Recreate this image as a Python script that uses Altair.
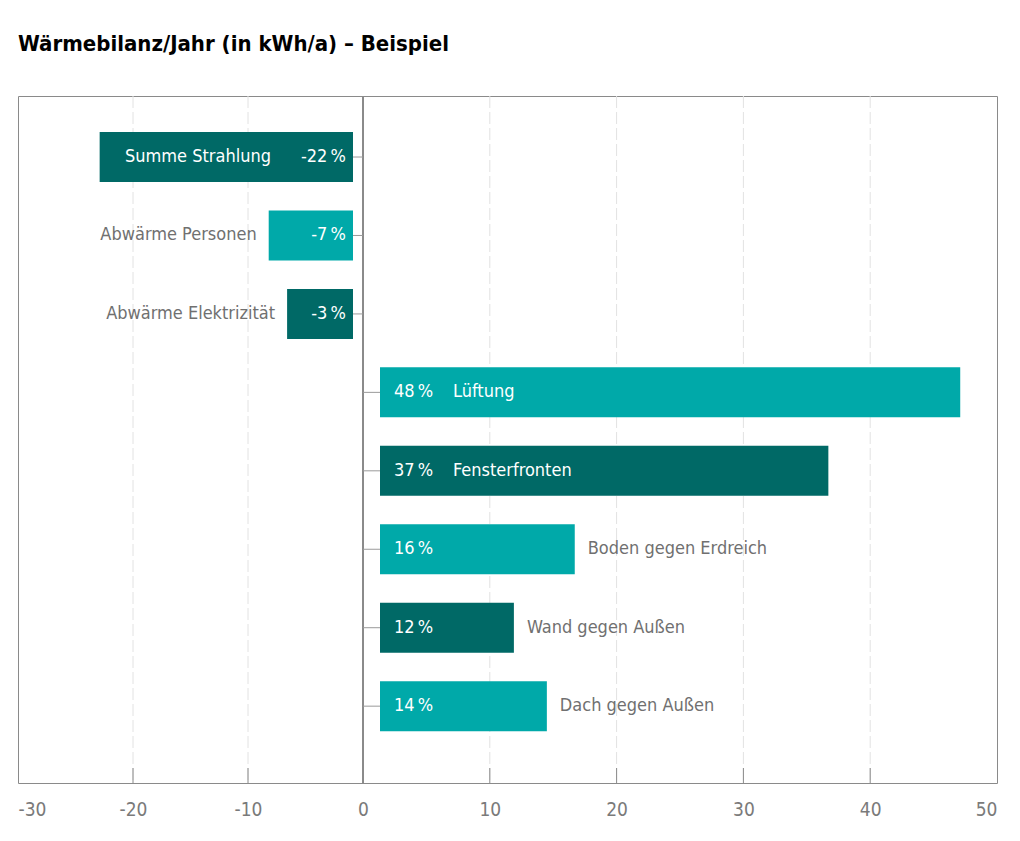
"""Wärmebilanz/Jahr – horizontal diverging bar chart"""

import altair as alt
import pandas

FONT = "Liberation Sans Narrow, DejaVu Sans Condensed, sans-serif"

categories = ["Summe Strahlung", "Abwärme Personen", "Abwärme Elektrizität", "Lüftung",
              "Fensterfronten", "Boden gegen Erdreich", "Wand gegen Außen", "Dach gegen Außen"]
values = [-22.9, -8.2, -6.6, 47.1, 36.7, 16.7, 11.9, 14.5]
percent_labels = ["-22\u2009%", "-7\u2009%", "-3\u2009%", "48\u2009%",
                  "37\u2009%", "16\u2009%", "12\u2009%", "14\u2009%"]
shades = ["dark", "light", "dark", "light", "dark", "light", "dark", "light"]

axis_ticks = [-30, -20, -10, 0, 10, 20, 30, 40, 50]
grid_ticks = [-20, -10, 10, 20, 30, 40]

df = pandas.DataFrame({"category": categories, "value": values,
                       "pct": percent_labels, "shade": shades})
df["base"] = 0
df["inside"] = df["value"].abs() > 20
grid_df = pandas.DataFrame({"tick": grid_ticks})

x_scale = alt.Scale(domain=[-30, 0, 50], range=[0, 345, 979], nice=False, zero=False)
x_axis = alt.Axis(values=axis_ticks, labelFlush=True, ticks=False, domain=False, grid=False,
                  labelFont=FONT, labelFontSize=19, labelColor="#7a7a7a", labelPadding=17,
                  labelExpr="replace(datum.label, '\u2212', '-')", title=None)
y_enc = alt.Y("category:N", sort=categories, axis=None,
              scale=alt.Scale(paddingInner=0.3625, paddingOuter=0.56, align=0.41))
color_scale = alt.Scale(domain=["dark", "light"], range=["#006966", "#00a9a9"])

base = alt.Chart(df)
neg = base.transform_filter("datum.value < 0")
pos = base.transform_filter("datum.value >= 0")

grid = alt.Chart(grid_df).mark_rule(color="#e2e2e2", strokeDash=[12, 4]).encode(
    x=alt.X("tick:Q", scale=x_scale, axis=x_axis))
inner_ticks = alt.Chart(grid_df).mark_rule(color="#8a8a8a").encode(
    x=alt.X("tick:Q", scale=x_scale, axis=x_axis), y=alt.value(672), y2=alt.value(687))
zero_line = base.mark_rule(color="#8a8a8a").encode(
    x=alt.X("base:Q", scale=x_scale, axis=x_axis))

# short connectors from the zero line to each bar
neg_link = neg.mark_rule(color="#9a9a9a", x2Offset=-12).encode(
    x=alt.X("base:Q", scale=x_scale, axis=x_axis), x2="base:Q", y=y_enc)
pos_link = pos.mark_rule(color="#9a9a9a", x2Offset=17).encode(
    x=alt.X("base:Q", scale=x_scale, axis=x_axis), x2="base:Q", y=y_enc)

neg_bars = neg.mark_bar(x2Offset=-10).encode(
    x=alt.X("value:Q", scale=x_scale, axis=x_axis), x2="base:Q", y=y_enc,
    color=alt.Color("shade:N", scale=color_scale, legend=None))
pos_bars = pos.mark_bar(xOffset=17).encode(
    x=alt.X("base:Q", scale=x_scale, axis=x_axis), x2="value:Q", y=y_enc,
    color=alt.Color("shade:N", scale=color_scale, legend=None))

txt = dict(font=FONT, fontSize=18, baseline="middle")

neg_pct = neg.mark_text(align="right", dx=-17, color="white", **txt).encode(
    x=alt.X("base:Q", scale=x_scale, axis=x_axis), y=y_enc, text="pct:N")
pos_pct = pos.mark_text(align="left", dx=31, color="white", **txt).encode(
    x=alt.X("base:Q", scale=x_scale, axis=x_axis), y=y_enc, text="pct:N")

neg_in = neg.transform_filter("datum.inside").mark_text(
    align="right", dx=-92, color="white", **txt).encode(
    x=alt.X("base:Q", scale=x_scale, axis=x_axis), y=y_enc, text="category:N")
neg_out = neg.transform_filter("!datum.inside").mark_text(
    align="right", dx=-12, color="#707070", **txt).encode(
    x=alt.X("value:Q", scale=x_scale, axis=x_axis), y=y_enc, text="category:N")
pos_in = pos.transform_filter("datum.inside").mark_text(
    align="left", dx=90, color="white", **txt).encode(
    x=alt.X("base:Q", scale=x_scale, axis=x_axis), y=y_enc, text="category:N")
pos_out = pos.transform_filter("!datum.inside").mark_text(
    align="left", dx=13, color="#707070", **txt).encode(
    x=alt.X("value:Q", scale=x_scale, axis=x_axis), y=y_enc, text="category:N")

chart = alt.layer(
    grid, inner_ticks, zero_line, neg_link, pos_link, neg_bars, pos_bars,
    neg_pct, pos_pct, neg_in, neg_out, pos_in, pos_out
).properties(
    width=979, height=687,
    padding={"left": 10, "top": 24, "right": 10, "bottom": 10},
    title=alt.Title("Wärmebilanz/Jahr (in kWh/a) – Beispiel", anchor="start", font=FONT,
                    fontSize=22, fontWeight="bold", color="#000000", offset=40),
).configure_view(stroke="#8a8a8a", strokeWidth=1)

chart.save("out.html", embed_options={"renderer": "svg", "actions": False})
